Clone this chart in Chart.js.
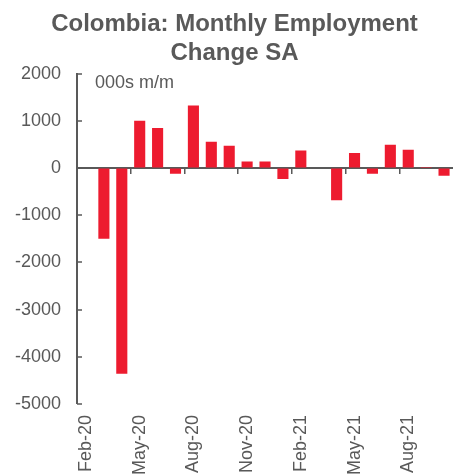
<!DOCTYPE html>
<html>
<head>
<meta charset="utf-8">
<script src="https://cdn.jsdelivr.net/npm/chart.js@4"></script>
<style>
  html, body { margin: 0; padding: 0; background: #fff; }
  #wrap { width: 453px; height: 474px; }
</style>
</head>
<body>
<div id="wrap"><canvas id="myChart" width="453" height="474"></canvas></div>
<script>
// data
const months = ['Feb-20', 'Mar-20', 'Apr-20', 'May-20', 'Jun-20', 'Jul-20', 'Aug-20', 'Sep-20', 'Oct-20', 'Nov-20', 'Dec-20',
                'Jan-21', 'Feb-21', 'Mar-21', 'Apr-21', 'May-21', 'Jun-21', 'Jul-21', 'Aug-21', 'Sep-21', 'Oct-21'];
const employmentChange = [0, -1500, -4360, 1000, 850, -120, 1325, 555, 470, 135, 135,
                          -235, 370, 0, -685, 320, -120, 490, 385, 20, -165];
const yTicks = [2000, 1000, 0, -1000, -2000, -3000, -4000, -5000];

const grey = '#595959';
const fontFamily = "'Liberation Sans', Arial, sans-serif";

// unit note inside the plot + inward tick marks on the y axis
const extras = {
    id: 'extras',
    afterDraw(chart) {
        const c = chart.ctx;
        const area = chart.chartArea;
        const y = chart.scales.y;
        c.save();
        c.strokeStyle = grey;
        c.lineWidth = 1.5;
        y.ticks.forEach(t => {
            const py = Math.round(y.getPixelForValue(t.value));
            c.beginPath();
            c.moveTo(area.left, py);
            c.lineTo(area.left + 5, py);
            c.stroke();
        });
        c.font = '18px ' + fontFamily;
        c.fillStyle = grey;
        c.textAlign = 'left';
        c.textBaseline = 'alphabetic';
        c.fillText('000s m/m', area.left + 18, area.top + 14);
        c.restore();
    }
};

const ctx = document.getElementById('myChart').getContext('2d');

const myChart = new Chart(ctx, {
    type: 'bar',
    data: {
        labels: months,
        datasets: [{
            label: 'Monthly employment change',
            data: employmentChange,
            backgroundColor: '#ED1B2F',
            borderWidth: 0,
            categoryPercentage: 1,
            barPercentage: 0.62
        }]
    },
    options: {
        responsive: false,
        animation: false,
        layout: { padding: { left: 14, right: -2, top: 0, bottom: 0 } },
        plugins: {
            legend: { display: false },
            tooltip: { enabled: false },
            title: {
                display: true,
                text: ['Colombia: Monthly Employment', 'Change SA'],
                color: grey,
                font: { family: fontFamily, size: 24, weight: 'bold', lineHeight: 1.2 },
                padding: { top: 10, bottom: 6 }
            }
        },
        scales: {
            // zero line with a tick every third month
            x: {
                type: 'category',
                position: { y: 0 },
                offset: true,
                ticks: { display: false },
                grid: {
                    offset: true,
                    drawOnChartArea: false,
                    drawTicks: true,
                    tickLength: 5,
                    lineWidth: 1.5,
                    color: (c) => (c.index !== undefined && c.index % 3 === 0) ? grey : 'rgba(0,0,0,0)'
                },
                border: { display: true, color: grey, width: 2 }
            },
            // month labels at the bottom
            x2: {
                type: 'category',
                position: 'bottom',
                offset: true,
                grid: { display: false, drawTicks: false },
                border: { display: false },
                ticks: {
                    autoSkip: false,
                    maxRotation: 90,
                    minRotation: 90,
                    padding: 11,
                    color: grey,
                    font: { family: fontFamily, size: 18 },
                    callback: (v, i) => (i % 3 === 0 ? months[i] : '')
                },
                afterFit: (s) => { s.height -= 12; s.paddingLeft = 0; s.paddingRight = 0; }
            },
            y: {
                min: -5000,
                max: 2000,
                afterBuildTicks: (s) => { s.ticks = yTicks.map(v => ({ value: v })); },
                grid: { drawOnChartArea: false, drawTicks: false },
                border: { display: true, color: grey, width: 2 },
                ticks: {
                    padding: 16,
                    color: grey,
                    font: { family: fontFamily, size: 18 },
                    callback: (v) => String(v)
                },
                afterFit: (s) => { s.width -= 15; }
            }
        }
    },
    plugins: [extras]
});
</script>
</body>
</html>
